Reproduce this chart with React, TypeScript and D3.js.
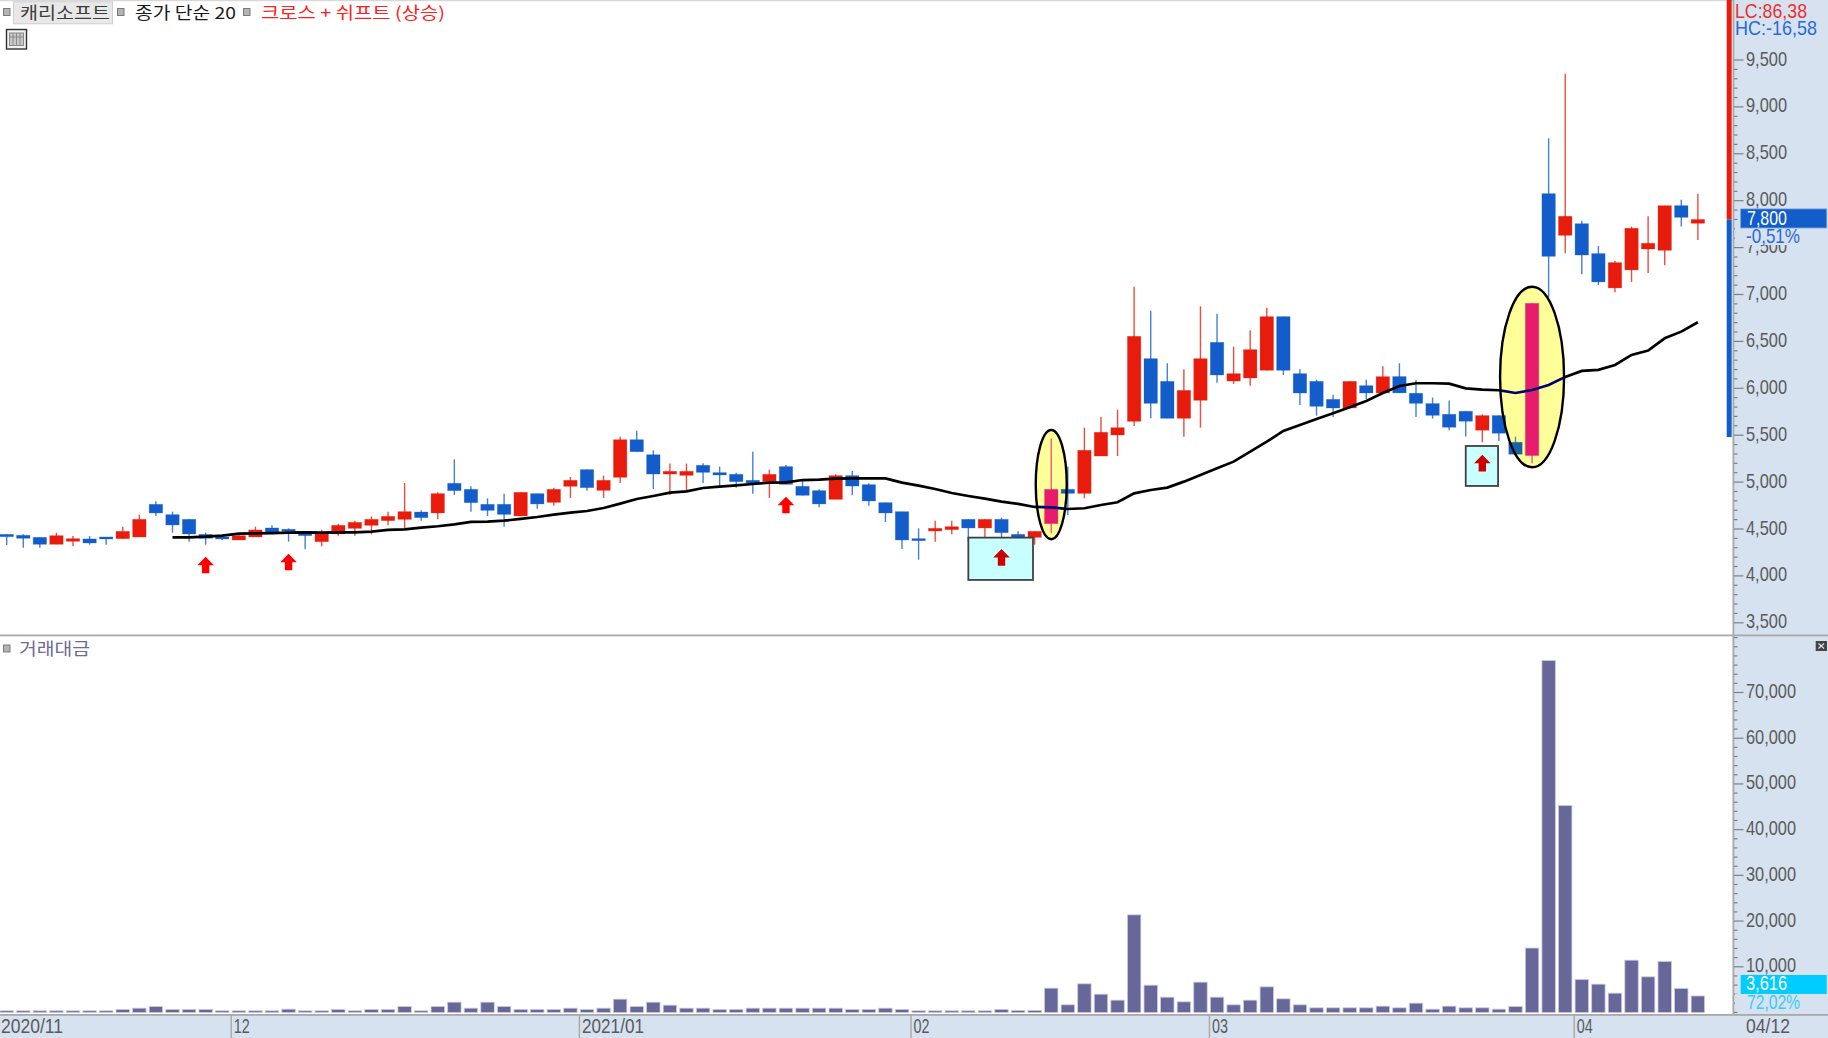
import React from "react";
import * as d3 from "d3";

const opens = [
  4443,4433,4411,4337,4369,4394,4415,4397,4415,4763,
  4653,4603,4443,4415,4383,4415,4511,4497,4475,4365,
  4447,4507,4539,4589,4603,4681,4671,4987,4923,4763,
  4763,4639,4877,4784,4955,5133,4912,5051,5452,5292,
  5086,5072,5179,5101,5083,5019,5005,5165,4955,4909,
  4816,5069,4973,4781,4685,4397,4479,4493,4603,4511,
  4603,4443,4411,4557,4923,4880,5278,5502,5648,6316,
  6074,5680,5872,6490,6078,6110,6192,6764,6156,6074,
  5882,5790,6028,5950,6125,5947,5837,5723,5755,5553,
  5709,5425,5283,8075,7631,7755,7436,7070,7262,7485,
  7471,7947,7759,
];
const highs = [
  4443,4443,4411,4461,4426,4426,4415,4525,4653,4795,
  4685,4603,4461,4443,4447,4525,4539,4507,4475,4493,
  4557,4589,4635,4685,4990,4699,4891,5243,4955,4827,
  4877,4891,4877,4941,5054,5133,5069,5484,5548,5339,
  5197,5197,5200,5165,5101,5324,5133,5182,5019,4923,
  5083,5118,4987,4781,4685,4507,4589,4589,4603,4603,
  4621,4475,4475,5466,5165,5580,5694,5772,7083,6828,
  6266,6202,6874,6796,6444,6618,6860,6764,6202,6092,
  5932,6074,6092,6234,6267,6089,5901,5869,5755,5723,
  5709,5485,6906,8665,9354,7787,7517,7358,7724,7834,
  7947,8011,8075,
];
const lows = [
  4330,4301,4301,4337,4315,4333,4333,4397,4415,4639,
  4461,4365,4333,4383,4383,4415,4443,4365,4283,4315,
  4429,4429,4443,4539,4507,4589,4603,4863,4685,4639,
  4525,4639,4717,4749,4831,4909,4831,4990,5324,4926,
  4863,4895,4990,4958,4941,4877,4831,4976,4859,4731,
  4816,4859,4749,4575,4287,4173,4365,4443,4365,4365,
  4365,4347,4333,4454,4650,4827,5278,5278,5598,5680,
  5680,5484,5580,6060,6046,6028,6192,6142,5822,5708,
  5694,5790,5886,5950,5951,5695,5677,5553,5485,5425,
  5439,5297,5201,6970,7439,7215,7102,7024,7134,7230,
  7311,7724,7581,
];
const closes = [
  4418,4401,4337,4429,4397,4351,4401,4475,4603,4671,
  4543,4447,4401,4397,4429,4490,4461,4475,4429,4461,
  4539,4571,4603,4635,4685,4621,4877,4909,4781,4699,
  4656,4891,4767,4923,5019,4941,5019,5452,5324,5086,
  5115,5115,5104,5076,5005,4990,5083,4976,4859,4767,
  5069,4958,4799,4671,4383,4383,4507,4525,4511,4603,
  4461,4411,4475,4923,4880,5339,5531,5580,6554,5840,
  5680,5978,6316,6142,6156,6412,6764,6192,5950,5808,
  5790,6074,5950,6124,5951,5840,5712,5585,5649,5709,
  5521,5297,6906,7407,7834,7421,7134,7340,7706,7546,
  7947,7823,7800,
];
const maStart = 10;
const ma20 = [
  4411,4411,4418,4429,4450,4454,4457,4461,4465,4461,
  4465,4465,4472,4490,4497,4514,4529,4550,4575,4578,
  4589,4607,4628,4653,4674,4692,4724,4770,4820,4852,
  4887,4902,4937,4951,4966,4980,4994,4998,5022,5026,
  5037,5040,5040,5040,4994,4962,4926,4884,4852,4823,
  4792,4767,4735,4731,4713,4721,4756,4785,4880,4916,
  4941,5005,5076,5147,5218,5325,5431,5545,5609,5673,
  5733,5797,5865,5950,6025,6054,6054,6050,6000,5986,
  5979,5950,5982,6036,6121,6185,6196,6249,6356,6402,
  6533,6604,6704,
];
const volumes = [
  365,365,365,365,365,365,365,656,948,1312,
  656,656,656,365,365,365,365,729,365,365,
  656,365,656,656,1312,365,1312,2260,948,2260,
  1312,656,656,656,948,656,948,2916,1312,2260,
  1604,948,948,656,656,948,948,948,948,948,
  948,656,656,948,656,365,365,365,365,365,
  656,437,437,5322,1677,6270,4010,2700,21360,5978,
  3353,2333,6634,3353,1677,2700,5613,2989,1677,1020,
  1020,1020,1020,1385,1020,2041,729,1385,1020,1020,
  729,1312,14100,76980,45270,7217,6200,4228,11445,7800,
  11154,5249,3616,
];
const priceTicks = [3500,4000,4500,5000,5500,6000,6500,7000,7500,8000,8500,9000,9500];
const priceMinorStep = 100;
const volumeTicks = [10000,20000,30000,40000,50000,60000,70000];
const volumeMinorStep = 2000;
const monthStarts = [14, 35, 55, 73, 95];
const monthLabels = ["12", "2021/01", "02", "03", "04"];
const firstLabel = "2020/11";
const lastLabel = "04/12";
const brightArrows = [[12, 4205], [17, 4237], [47, 4845]];
const darkArrows = [[60, 4287], [89, 5292]];
const boxes = [[58, 61.9, 4408, 3957], [88, 89.95, 5385, 4959]];
const ellipses = [[63, 0.935, 5556, 4391], [92, 1.93, 7083, 5158]];

const W = 1828, H = 1038, AX = 1733;
const RED = "#e81c0c", BLUE = "#125dca", PINK = "#e81c6c", TEAL = "#1a62a8";
const NARROW = "'Liberation Sans Narrow','Liberation Sans',sans-serif";
const KR = "'Noto Sans CJK KR','Noto Sans',sans-serif";
const AXC = "#5a5a5a", PANEL = "#d6e2f0", GRID = "#a8a8a8";

const x = d3.scaleLinear().domain([0, 102]).range([6.7, 1697.86]);
const y = d3.scaleLinear().domain([3500, 9500]).range([622.8, 60]);
const yV = d3.scaleLinear().domain([0, 70000]).range([1012.5, 692.5]);
const BW = 13.4;

const maLine = d3.line<number>().x((_, i) => x(i + maStart)).y((d) => y(d));

function Candles({ up, down, wickOp }: { up: string; down: string; wickOp: number }) {
  return (
    <g>
      {closes.map((c, i) => {
        const o = opens[i];
        const col = c >= o ? up : down;
        const top = y(Math.max(o, c));
        const bot = y(Math.min(o, c));
        return (
          <g key={i}>
            <line x1={x(i)} x2={x(i)} y1={y(highs[i])} y2={y(lows[i])} stroke={col} strokeWidth={1.4} opacity={wickOp} />
            <rect x={x(i) - BW / 2} y={top} width={BW} height={Math.max(bot - top, 2)} fill={col} stroke={col} strokeOpacity={0.35} strokeWidth={0.8} />
          </g>
        );
      })}
    </g>
  );
}

function Arrow({ i, p, fill }: { i: number; p: number; fill: string }) {
  const cx = x(i), t = y(p);
  const d = d3.path();
  d.moveTo(cx, t);
  d.lineTo(cx + 8.3, t + 8.5);
  d.lineTo(cx + 3.7, t + 8.5);
  d.lineTo(cx + 3.7, t + 16.7);
  d.lineTo(cx - 3.7, t + 16.7);
  d.lineTo(cx - 3.7, t + 8.5);
  d.lineTo(cx - 8.3, t + 8.5);
  d.closePath();
  return <path d={d.toString()} fill={fill} />;
}

function Square({ px, py }: { px: number; py: number }) {
  return <rect x={px + 0.5} y={py + 0.5} width={6.5} height={7} fill="#b4b4b4" stroke="#7a7a7a" strokeWidth={1} />;
}

function Lbl({ px, py, size = 21, len, fill = AXC, children, font = NARROW }: any) {
  return (
    <text x={px} y={py} fontSize={size} fontFamily={font} fill={fill} textLength={len} lengthAdjust={len ? "spacingAndGlyphs" : undefined}>
      {children}
    </text>
  );
}

const fmt = d3.format(",");

export default function App() {
  const minorP = d3.range(3500, 9501, priceMinorStep);
  const minorV = d3.range(0, 82001, volumeMinorStep);
  const ellPaths = ellipses.map(([i, hw, pt, pb]) => ({
    cx: x(i), rx: x(i + hw) - x(i), cy: (y(pt) + y(pb)) / 2, ry: (y(pb) - y(pt)) / 2,
  }));
  return (
    <svg width={W} height={H} style={{ position: "fixed", left: 0, top: 0, background: "#fff" }}>
      <defs>
        <clipPath id="ellClip">
          {ellPaths.map((e, i) => <ellipse key={i} cx={e.cx} cy={e.cy} rx={e.rx} ry={e.ry} />)}
        </clipPath>
        <clipPath id="pricePane"><rect x={0} y={0} width={AX} height={635} /></clipPath>
      </defs>
      <rect x={0} y={0} width={W} height={1.2} fill="#d8d8d8" />

      {/* price pane */}
      <g clipPath="url(#pricePane)">
        <Candles up={RED} down={BLUE} wickOp={0.78} />
        <path d={maLine(ma20) || ""} fill="none" stroke="#000" strokeWidth={2.7} />
        {ellPaths.map((e, i) => (
          <ellipse key={i} cx={e.cx} cy={e.cy} rx={e.rx} ry={e.ry} fill="#ffff99" />
        ))}
        <g clipPath="url(#ellClip)">
          <Candles up={PINK} down={TEAL} wickOp={0.72} />
          <path d={maLine(ma20) || ""} fill="none" stroke="#00006e" strokeWidth={2.7} />
        </g>
        {ellPaths.map((e, i) => (
          <ellipse key={i} cx={e.cx} cy={e.cy} rx={e.rx} ry={e.ry} fill="none" stroke="#000" strokeWidth={2.4} />
        ))}
        {boxes.map(([a, b, pt, pb], i) => (
          <rect key={i} x={x(a)} y={y(pt)} width={x(b) - x(a)} height={y(pb) - y(pt)} fill="#c8ffff" stroke="#404040" strokeWidth={1.8} />
        ))}
        {brightArrows.map(([i, p]) => <Arrow key={i} i={i} p={p} fill="#ff0000" />)}
        {darkArrows.map(([i, p]) => <Arrow key={i} i={i} p={p} fill="#cc0000" />)}
      </g>

      {/* volume bars */}
      {volumes.map((v, i) => (
        <rect key={i} x={x(i) - BW / 2} y={yV(v)} width={BW} height={yV(0) - yV(v)} fill="#67679a" stroke="#c8c8e0" strokeWidth={0.8} />
      ))}

      {/* right axis panel */}
      <rect x={AX} y={0} width={W - AX} height={H} fill={PANEL} />
      <rect x={1726.7} y={0} width={5} height={y(7800)} fill={RED} />
      <rect x={1726.7} y={y(7800)} width={5} height={y(5480) - y(7800)} fill={BLUE} />
      <rect x={1732.5} y={0} width={1.8} height={H} fill={GRID} />

      {minorP.map((p) => (
        <line key={p} x1={1734} x2={priceTicks.includes(p) ? 1743.5 : 1737.5} y1={y(p)} y2={y(p)} stroke="#808080" strokeWidth={1.2} />
      ))}
      {priceTicks.map((p) => (
        <Lbl key={p} px={1746} py={y(p) + 5.5} len={41}>{fmt(p)}</Lbl>
      ))}
      {minorV.map((v) => (
        <line key={v} x1={1734} x2={volumeTicks.includes(v) ? 1743.5 : 1737.5} y1={yV(v)} y2={yV(v)} stroke="#808080" strokeWidth={1.2} />
      ))}
      {volumeTicks.map((v) => (
        <Lbl key={v} px={1746} py={yV(v) + 5.5} len={50}>{fmt(v)}</Lbl>
      ))}

      {/* current price tags */}
      <rect x={1735} y={228} width={93} height={17} fill={PANEL} />
      <rect x={1740.7} y={y(7800) - 10.5} width={86} height={19} fill={BLUE} stroke="#6c9be0" strokeWidth={0.8} />
      <Lbl px={1747} py={y(7800) + 5.5} len={40} fill="#ffffff">7,800</Lbl>
      <Lbl px={1746} py={243} len={54} fill="#2a6ad8">-0,51%</Lbl>
      <rect x={1735} y={994} width={93} height={17} fill={PANEL} />
      <rect x={1740.7} y={yV(3616) - 21} width={86} height={19} fill="#00ccff" />
      <Lbl px={1746} py={yV(3616) - 5.5} len={41} fill="#ffffff">3,616</Lbl>
      <Lbl px={1747} py={1009} len={53} fill="#33ccff">72,02%</Lbl>

      <Lbl px={1735} py={18} len={72} fill="#e83030">LC:86,38</Lbl>
      <Lbl px={1735} py={35} len={82} fill="#2a6ad8">HC:-16,58</Lbl>

      {/* pane separator */}
      <rect x={0} y={634.5} width={W} height={1.8} fill={GRID} />

      {/* bottom axis */}
      <rect x={0} y={1014.5} width={W} height={H - 1014.5} fill={PANEL} />
      <rect x={0} y={1014} width={W} height={1.8} fill={GRID} />
      <Lbl px={1} py={1033} len={62}>{firstLabel}</Lbl>
      {monthStarts.map((m, i) => (
        <g key={m}>
          <line x1={x(m) - 7.6} x2={x(m) - 7.6} y1={1015} y2={H} stroke={GRID} strokeWidth={1.4} />
          <Lbl px={x(m) - 5} py={1033} len={monthLabels[i].length > 2 ? 62 : 16}>{monthLabels[i]}</Lbl>
        </g>
      ))}
      <Lbl px={1746} py={1033} len={44}>{lastLabel}</Lbl>

      {/* legend */}
      <Square px={3} py={8} />
      <rect x={13.5} y={1.8} width={99} height={22} fill="#e8e8e8" stroke="#cfcfcf" strokeWidth={1} />
      <Lbl px={20} py={19} size={16.5} len={90} fill="#3c3c3c" font={KR}>캐리소프트</Lbl>
      <Square px={117} py={8} />
      <Lbl px={135} py={19} size={16.5} len={101} fill="#1a1a1a" font={KR}>종가 단순 20</Lbl>
      <Square px={243} py={8} />
      <Lbl px={261} py={19} size={16.5} len={184} fill="#ff2020" font={KR}>크로스 + 쉬프트 (상승)</Lbl>

      {/* table icon */}
      <rect x={6.5} y={29.5} width={20} height={19.5} fill="#f0f0f0" stroke="#303030" strokeWidth={1.4} />
      <rect x={9.5} y={33} width={14} height={12.5} fill="#c8c8c8" stroke="#8a8a8a" strokeWidth={1} />
      {[13, 16.5, 20].map((px) => <line key={px} x1={px} x2={px} y1={33} y2={45.5} stroke="#8a8a8a" strokeWidth={1} />)}
      <line x1={9.5} x2={23.5} y1={37} y2={37} stroke="#8a8a8a" strokeWidth={1} />

      {/* volume title */}
      <Square px={3} py={644.5} />
      <Lbl px={19} py={655} size={17} len={71} fill="#6a6a9c" font={KR}>거래대금</Lbl>

      {/* maximise button */}
      <rect x={1815.7} y={641} width={11.3} height={10} fill="#444" />
      <path d="M1818.5 643.5 L1824 648.5 M1824 643.5 L1818.5 648.5" stroke="#e0e0e0" strokeWidth={1.2} />
    </svg>
  );
}
